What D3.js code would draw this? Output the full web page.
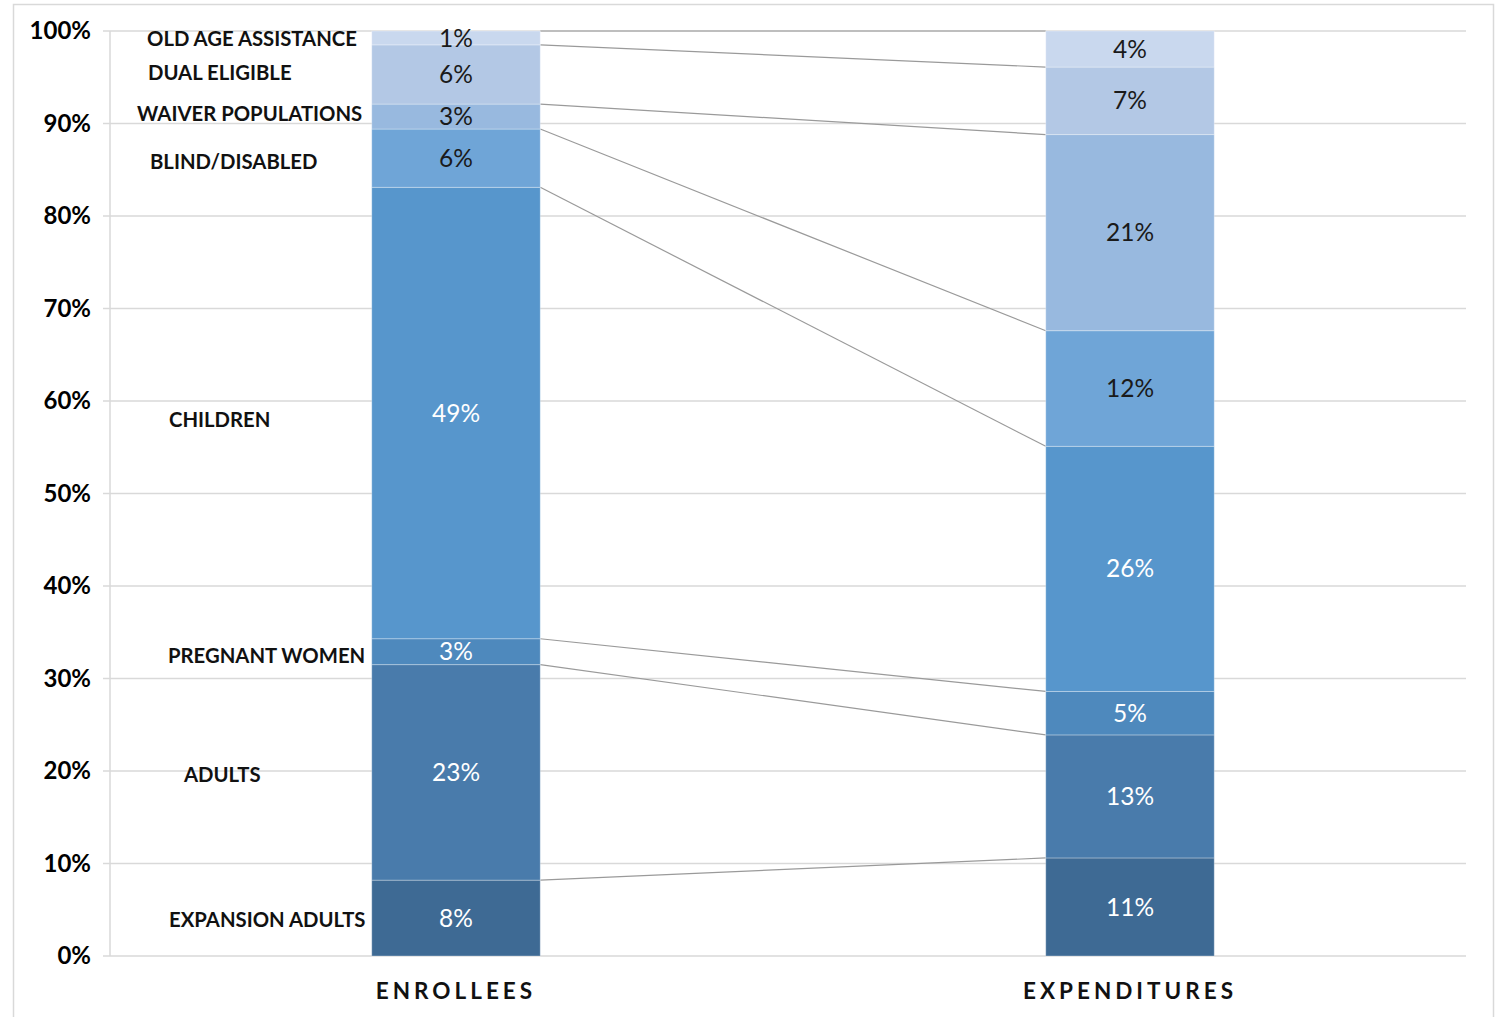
<!DOCTYPE html>
<html>
<head>
<meta charset="utf-8">
<script src="https://cdn.jsdelivr.net/npm/d3@7"></script>
<style>
  body { margin: 0; background: #fff; }
  svg { display: block; font-family: Lato, "Open Sans", sans-serif; }
</style>
</head>
<body>
<svg id="main-svg" width="1499" height="1017"></svg>
<script>
// data
var categories = ["ENROLLEES", "EXPENDITURES"];
var groups = ["EXPANSION ADULTS", "ADULTS", "PREGNANT WOMEN", "CHILDREN",
              "BLIND/DISABLED", "WAIVER POPULATIONS", "DUAL ELIGIBLE", "OLD AGE ASSISTANCE"];
var enrollees    = [8.2, 23.3, 2.8, 48.8, 6.3, 2.7, 6.4, 1.5];
var expenditures = [10.6, 13.3, 4.7, 26.5, 12.5, 21.2, 7.3, 3.9];
var enrolleeLabels    = ["8%", "23%", "3%", "49%", "6%", "3%", "6%", "1%"];
var expenditureLabels = ["11%", "13%", "5%", "26%", "12%", "21%", "7%", "4%"];
var yTicks = [0, 10, 20, 30, 40, 50, 60, 70, 80, 90, 100];

// look
var colors = ["#3e6a94", "#497bab", "#4e89bd", "#5796cc", "#6fa5d7", "#98b9df", "#b3c8e5", "#c9d8ee"];
var darkText = [false, false, false, false, true, true, true, true];
// left group labels: x start and small vertical nudge
var labelX  = [169, 184, 168, 169, 150, 137, 148, 147];
var labelDy = [2, 3, 4, 7, 4, -3, -2, 1];

var svg = d3.select("#main-svg");

// outer frame
svg.append("rect")
    .attr("x", 13.5).attr("y", 4.5)
    .attr("width", 1480).attr("height", 1030)
    .attr("fill", "none").attr("stroke", "#d9d9d9").attr("stroke-width", 1.5);

var x = d3.scaleBand().domain(categories).range([119, 1467])
    .paddingInner(0.75).paddingOuter(0.375);
var y = d3.scaleLinear().domain([0, 100]).range([956, 31]);

// grid
var grid = svg.append("g");
grid.selectAll("line").data(yTicks).enter().append("line")
    .attr("x1", 103).attr("x2", 1466)
    .attr("y1", function (d) { return y(d); })
    .attr("y2", function (d) { return y(d); })
    .attr("stroke", "#d9d9d9").attr("stroke-width", 1.5);
grid.append("line")
    .attr("x1", 110).attr("x2", 110)
    .attr("y1", y(0)).attr("y2", y(100))
    .attr("stroke", "#d9d9d9").attr("stroke-width", 1.5);

// y tick labels
svg.append("g").selectAll("text").data(yTicks).enter().append("text")
    .attr("x", 91)
    .attr("y", function (d) { return y(d); })
    .attr("dy", "0.35em")
    .attr("text-anchor", "end")
    .style("font-size", "24px").style("font-weight", "bold")
    .attr("fill", "#000")
    .text(function (d) { return d + "%"; });

// stacking
function stackUp(vals) {
    var acc = 0;
    return vals.map(function (v, i) {
        var s = {i: i, y0: acc, y1: acc + v};
        acc += v;
        return s;
    });
}
var stacks = {ENROLLEES: stackUp(enrollees), EXPENDITURES: stackUp(expenditures)};
var valueLabels = {ENROLLEES: enrolleeLabels, EXPENDITURES: expenditureLabels};

// connector lines between bar tops
var left = stacks.ENROLLEES, right = stacks.EXPENDITURES;
svg.append("g").selectAll("line").data(groups).enter().append("line")
    .attr("x1", x("ENROLLEES") + x.bandwidth())
    .attr("x2", x("EXPENDITURES"))
    .attr("y1", function (d, i) { return y(Math.min(left[i].y1, 100)); })
    .attr("y2", function (d, i) { return y(Math.min(right[i].y1, 100)); })
    .attr("stroke", "#9a9a9a").attr("stroke-width", 1.2);

// bars
categories.forEach(function (c) {
    var g = svg.append("g");
    g.selectAll("rect").data(stacks[c]).enter().append("rect")
        .attr("x", x(c))
        .attr("width", x.bandwidth())
        .attr("y", function (d) { return y(Math.min(d.y1, 100)); })
        .attr("height", function (d) { return y(d.y0) - y(Math.min(d.y1, 100)); })
        .attr("fill", function (d) { return colors[d.i]; })
        .attr("stroke", "rgba(255,255,255,0.3)").attr("stroke-width", 1);
    g.selectAll("text").data(stacks[c]).enter().append("text")
        .attr("x", x(c) + x.bandwidth() / 2)
        .attr("y", function (d) { return (y(d.y0) + y(Math.min(d.y1, 100))) / 2; })
        .attr("dy", "0.35em")
        .attr("text-anchor", "middle")
        .style("font-size", "24.5px")
        .attr("fill", function (d) { return darkText[d.i] ? "#1a1a1a" : "#ffffff"; })
        .text(function (d) { return valueLabels[c][d.i]; });
});

// group labels on the left
svg.append("g").selectAll("text").data(left).enter().append("text")
    .attr("x", function (d) { return labelX[d.i]; })
    .attr("y", function (d) { return (y(d.y0) + y(Math.min(d.y1, 100))) / 2 + labelDy[d.i]; })
    .attr("dy", "0.35em")
    .style("font-size", "20.3px").style("font-weight", "bold")
    .attr("fill", "#111")
    .text(function (d) { return groups[d.i]; });

// category labels
svg.append("g").selectAll("text").data(categories).enter().append("text")
    .attr("x", function (d) { return x(d) + x.bandwidth() / 2; })
    .attr("y", 991)
    .attr("dy", "0.35em")
    .attr("text-anchor", "middle")
    .style("font-size", "22.5px").style("font-weight", "bold")
    .style("letter-spacing", "4px")
    .attr("fill", "#111")
    .text(function (d) { return d; });
</script>
</body>
</html>
